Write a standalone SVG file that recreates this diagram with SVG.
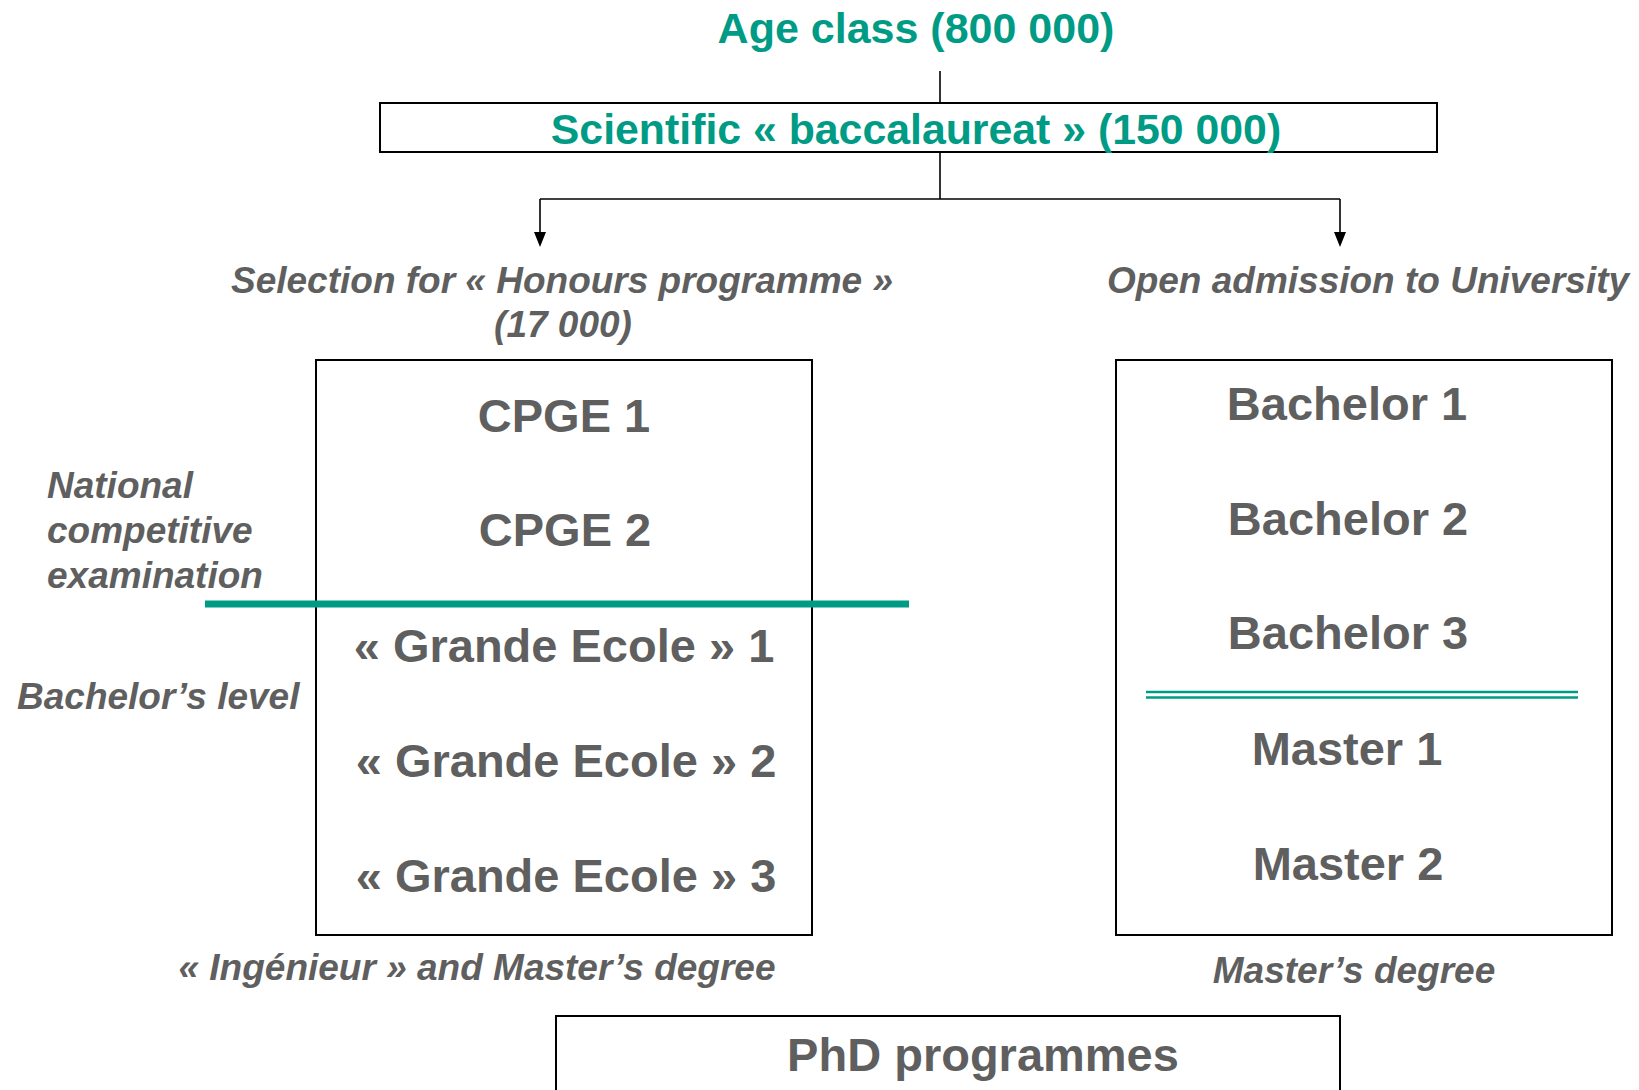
<svg xmlns="http://www.w3.org/2000/svg" width="1639" height="1090" viewBox="0 0 1639 1090">
<style>
text{font-family:"Liberation Sans",Arial,sans-serif;font-weight:bold}
.teal{fill:#009B85}
.it{font-style:italic;font-size:37px;fill:#5f5f5f}
.big{font-size:47px;fill:#5f5f5f;text-anchor:middle}
.box{fill:#fff;stroke:#000;stroke-width:2}
.conn{fill:none;stroke:#000;stroke-width:1.6}
.head{fill:#000}
</style>
<rect width="1639" height="1090" fill="#fff"/>

<g id="connectors">
<path class="conn" d="M940,71 V103"/>
<path class="conn" d="M940,152 V199"/>
<path class="conn" d="M540,199 H1340"/>
<path class="conn" d="M540,199 V233"/>
<path class="head" d="M534,232 L546,232 L540,247 Z"/>
<path class="conn" d="M1340,199 V233"/>
<path class="head" d="M1334,232 L1346,232 L1340,247 Z"/>
</g>

<g id="age-class">
<text x="916" y="43" class="teal" font-size="43" text-anchor="middle">Age class (800 000)</text>
</g>

<g id="baccalaureat">
<rect class="box" x="380" y="103" width="1057" height="49"/>
<text x="916" y="144" class="teal" font-size="42.8" text-anchor="middle">Scientific « baccalaureat » (150 000)</text>
</g>

<g id="honours-label">
<text x="562" y="293" class="it" text-anchor="middle">Selection for « Honours programme »</text>
<text x="563" y="337" class="it" text-anchor="middle">(17 000)</text>
</g>

<g id="university-label">
<text x="1368" y="293" class="it" text-anchor="middle">Open admission to University</text>
</g>

<g id="cpge-box">
<rect class="box" x="316" y="360" width="496" height="575"/>
<text x="564" y="432" class="big">CPGE 1</text>
<text x="565" y="546" class="big">CPGE 2</text>
<text x="564" y="662" class="big">« Grande Ecole » 1</text>
<text x="566" y="777" class="big">« Grande Ecole » 2</text>
<text x="566" y="892" class="big">« Grande Ecole » 3</text>
</g>

<g id="competitive-exam">
<text x="47" y="498" class="it">National</text>
<text x="47" y="543" class="it">competitive</text>
<text x="47" y="588" class="it">examination</text>
<line x1="205" y1="604" x2="909" y2="604" stroke="#009B85" stroke-width="7"/>
</g>

<g id="bachelor-level">
<text x="17" y="709" class="it">Bachelor’s level</text>
</g>

<g id="university-box">
<rect class="box" x="1116" y="360" width="496" height="575"/>
<text x="1347" y="420" class="big">Bachelor 1</text>
<text x="1348" y="535" class="big">Bachelor 2</text>
<text x="1348" y="649" class="big">Bachelor 3</text>
<line x1="1146" y1="692" x2="1578" y2="692" stroke="#009B85" stroke-width="2.5"/>
<line x1="1146" y1="697.5" x2="1578" y2="697.5" stroke="#009B85" stroke-width="2.5"/>
<text x="1347" y="765" class="big">Master 1</text>
<text x="1348" y="880" class="big">Master 2</text>
</g>

<g id="ingenieur-label">
<text x="477" y="980" class="it" text-anchor="middle">« Ingénieur » and Master’s degree</text>
</g>

<g id="masters-label">
<text x="1354" y="983" class="it" text-anchor="middle">Master’s degree</text>
</g>

<g id="phd">
<rect class="box" x="556" y="1016" width="784" height="90"/>
<text x="983" y="1071" class="big" font-size="48">PhD programmes</text>
</g>
</svg>
